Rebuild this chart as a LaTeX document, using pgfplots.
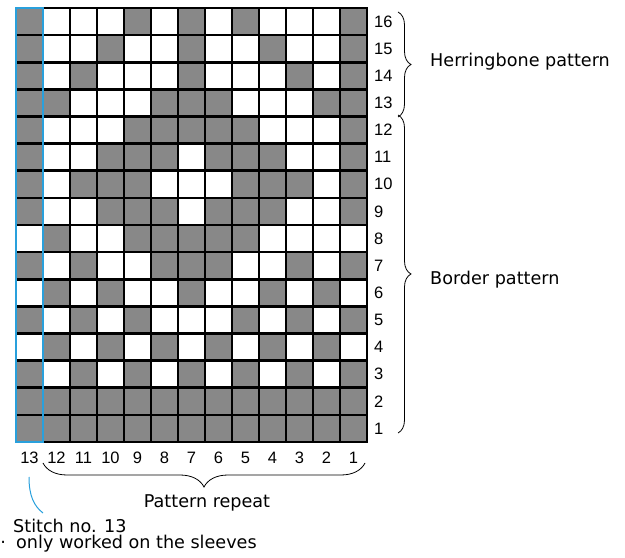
\documentclass[border=0pt]{standalone}
\usepackage{pgfplots}
\pgfplotsset{compat=1.18}
\usepackage{fontspec}
\setmainfont{DejaVu Sans}
\newfontfamily\numfont{Liberation Sans}
\usetikzlibrary{decorations.pathreplacing}
\definecolor{cgray}{RGB}{136,136,136}
\definecolor{cblue}{RGB}{41,160,220}
\newcommand{\txt}{\fontsize{17.6bp}{20bp}\selectfont}
\newcommand{\num}{\numfont\fontsize{16.5bp}{18bp}\selectfont}
\begin{document}
\begin{tikzpicture}
\path[use as bounding box] (0,0) rectangle (625bp,558bp);
\begin{axis}[
  at={(16bp,116bp)}, anchor=south west,
  scale only axis, width=351bp, height=434bp,
  xmin=-0.5, xmax=12.5, ymin=0.5, ymax=16.5,
  axis on top,
  axis line style={black, line width=2.6bp},
  xtick={0,...,12},
  xticklabels={13,12,11,10,9,8,7,6,5,4,3,2,1},
  ytick={1,...,16},
  yticklabels={1,2,3,4,5,6,7,8,9,10,11,12,13,14,15,16},
  yticklabel pos=right,
  major tick length=0pt, minor tick length=0pt,
  minor xtick={-0.5,0.5,...,12.5},
  minor ytick={0.5,1.5,...,16.5},
  xminorgrids, yminorgrids,
  minor grid style={black, line width=2.6bp},
  xticklabel style={font=\num, anchor=center, yshift=-15.5bp, inner sep=0pt},
  yticklabel style={font=\num, anchor=west, xshift=7bp, inner sep=0pt},
  colormap={cells}{rgb255(0)=(255,255,255) rgb255(1)=(136,136,136)},
  point meta min=0, point meta max=1,
]
\addplot[matrix plot*, point meta=explicit, mesh/cols=13] coordinates {
(0,1)[1] (1,1)[1] (2,1)[1] (3,1)[1] (4,1)[1] (5,1)[1] (6,1)[1] (7,1)[1] (8,1)[1] (9,1)[1] (10,1)[1] (11,1)[1] (12,1)[1]
(0,2)[1] (1,2)[1] (2,2)[1] (3,2)[1] (4,2)[1] (5,2)[1] (6,2)[1] (7,2)[1] (8,2)[1] (9,2)[1] (10,2)[1] (11,2)[1] (12,2)[1]
(0,3)[1] (1,3)[0] (2,3)[1] (3,3)[0] (4,3)[1] (5,3)[0] (6,3)[1] (7,3)[0] (8,3)[1] (9,3)[0] (10,3)[1] (11,3)[0] (12,3)[1]
(0,4)[0] (1,4)[1] (2,4)[0] (3,4)[1] (4,4)[0] (5,4)[1] (6,4)[0] (7,4)[1] (8,4)[0] (9,4)[1] (10,4)[0] (11,4)[1] (12,4)[0]
(0,5)[1] (1,5)[0] (2,5)[1] (3,5)[0] (4,5)[1] (5,5)[0] (6,5)[0] (7,5)[0] (8,5)[1] (9,5)[0] (10,5)[1] (11,5)[0] (12,5)[1]
(0,6)[0] (1,6)[1] (2,6)[0] (3,6)[1] (4,6)[0] (5,6)[0] (6,6)[1] (7,6)[0] (8,6)[0] (9,6)[1] (10,6)[0] (11,6)[1] (12,6)[0]
(0,7)[1] (1,7)[0] (2,7)[1] (3,7)[0] (4,7)[0] (5,7)[1] (6,7)[1] (7,7)[1] (8,7)[0] (9,7)[0] (10,7)[1] (11,7)[0] (12,7)[1]
(0,8)[0] (1,8)[1] (2,8)[0] (3,8)[0] (4,8)[1] (5,8)[1] (6,8)[1] (7,8)[1] (8,8)[1] (9,8)[0] (10,8)[0] (11,8)[0] (12,8)[0]
(0,9)[1] (1,9)[0] (2,9)[0] (3,9)[1] (4,9)[1] (5,9)[1] (6,9)[0] (7,9)[1] (8,9)[1] (9,9)[1] (10,9)[0] (11,9)[0] (12,9)[1]
(0,10)[1] (1,10)[0] (2,10)[1] (3,10)[1] (4,10)[1] (5,10)[0] (6,10)[0] (7,10)[0] (8,10)[1] (9,10)[1] (10,10)[1] (11,10)[0] (12,10)[1]
(0,11)[1] (1,11)[0] (2,11)[0] (3,11)[1] (4,11)[1] (5,11)[1] (6,11)[0] (7,11)[1] (8,11)[1] (9,11)[1] (10,11)[0] (11,11)[0] (12,11)[1]
(0,12)[1] (1,12)[0] (2,12)[0] (3,12)[0] (4,12)[1] (5,12)[1] (6,12)[1] (7,12)[1] (8,12)[1] (9,12)[0] (10,12)[0] (11,12)[0] (12,12)[1]
(0,13)[1] (1,13)[1] (2,13)[0] (3,13)[0] (4,13)[0] (5,13)[1] (6,13)[1] (7,13)[1] (8,13)[0] (9,13)[0] (10,13)[0] (11,13)[1] (12,13)[1]
(0,14)[1] (1,14)[0] (2,14)[1] (3,14)[0] (4,14)[0] (5,14)[0] (6,14)[1] (7,14)[0] (8,14)[0] (9,14)[0] (10,14)[1] (11,14)[0] (12,14)[1]
(0,15)[1] (1,15)[0] (2,15)[0] (3,15)[1] (4,15)[0] (5,15)[0] (6,15)[1] (7,15)[0] (8,15)[0] (9,15)[1] (10,15)[0] (11,15)[0] (12,15)[1]
(0,16)[1] (1,16)[0] (2,16)[0] (3,16)[0] (4,16)[1] (5,16)[0] (6,16)[1] (7,16)[0] (8,16)[1] (9,16)[0] (10,16)[0] (11,16)[0] (12,16)[1]
};
\coordinate (bl) at (axis cs:-0.5,0.5);
\coordinate (tr) at (axis cs:0.5,16.5);
\end{axis}
\draw[cblue, line width=2.6bp] (bl) rectangle (tr);
% bottom brace
\draw[black, line width=0.8bp, decorate, decoration={brace, amplitude=24bp}] (365bp,95bp) -- (43bp,95bp);
\node[anchor=center, inner sep=0pt, font=\txt] at (207bp,55bp) {Pattern repeat};
% right braces
\draw[black, line width=0.8bp, decorate, decoration={brace, amplitude=13bp}] (398bp,546bp) -- (398bp,441bp);
\draw[black, line width=0.8bp, decorate, decoration={brace, amplitude=13bp}] (398bp,443bp) -- (398bp,125bp);
\node[anchor=west, inner sep=0pt, font=\txt] at (430bp,496bp) {Herringbone pattern};
\node[anchor=west, inner sep=0pt, font=\txt] at (430bp,278bp) {Border pattern};
% stitch 13 note
\draw[cblue, line width=1bp] (29bp,81bp) .. controls (29bp,62bp) and (34bp,52bp) .. (43bp,45bp);
\node[anchor=base west, inner sep=0pt, font=\txt] at (13bp,26bp) {Stitch no. 13};
\node[anchor=base west, inner sep=0pt, font=\txt] at (16bp,10bp) {only worked on the sleeves};
\node[anchor=base, inner sep=0pt, font=\txt] at (3.2bp,10bp) {·};
\end{tikzpicture}
\end{document}
